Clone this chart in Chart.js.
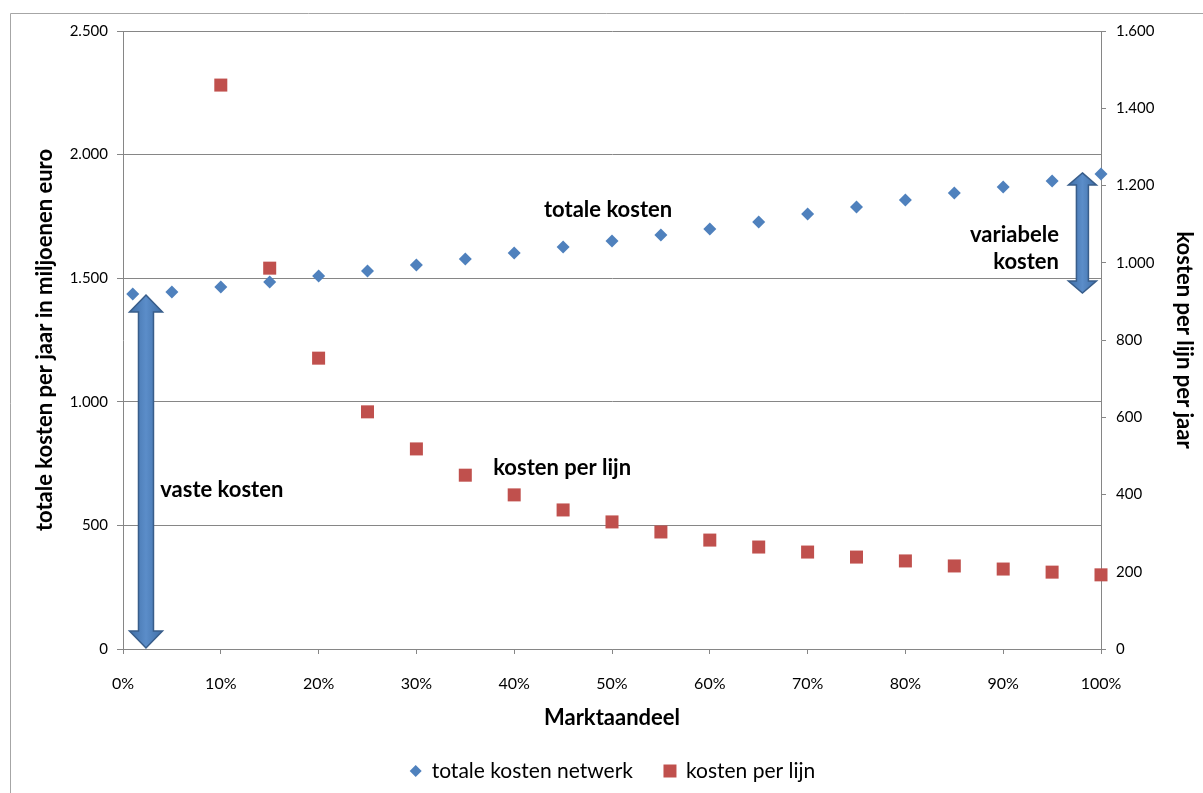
<!DOCTYPE html>
<html>
<head>
<meta charset="utf-8">
<script src="https://cdn.jsdelivr.net/npm/chart.js@4/dist/chart.umd.min.js"></script>
<style>
  html, body { margin: 0; padding: 0; background: #fff; overflow: hidden; }
  canvas { display: block; }
</style>
</head>
<body>
<canvas id="chart" width="1203" height="793"></canvas>
<script>
Chart.defaults.devicePixelRatio = 1;
Chart.defaults.font.family = "Lato, 'Open Sans', sans-serif";
Chart.defaults.color = "#000";

// market share (%) and values
const shareTotal = [1, 5, 10, 15, 20, 25, 30, 35, 40, 45, 50, 55, 60, 65, 70, 75, 80, 85, 90, 95, 100];
const totalCost = [1436, 1444, 1464, 1485, 1509, 1529, 1553, 1578, 1602, 1626, 1650, 1675, 1699, 1727, 1760, 1788, 1816, 1845, 1869, 1893, 1922];
const shareLine = [10, 15, 20, 25, 30, 35, 40, 45, 50, 55, 60, 65, 70, 75, 80, 85, 90, 95, 100];
const costPerLine = [1460, 986, 753, 614, 518, 450, 399, 360, 329, 303, 282, 264, 251, 238, 228, 215, 207, 199, 192];

const seriesLabels = ["totale kosten netwerk", "kosten per lijn"];
const seriesColors = ["#4F81BD", "#C0504D"];

// annotations (data coordinates, left axis)
const arrows = [
  { x: 2.35, from: 4, to: 1432, head: 33, shaft: 15, headLen: 17 },
  { x: 98.1, from: 1440, to: 1926, head: 28, shaft: 12, headLen: 12 },
];
const notes = [
  { lines: ["totale kosten"], x: 49.6, y: 1776, align: "center" },
  { lines: ["kosten per lijn"], x: 44.9, y: 732, align: "center" },
  { lines: ["vaste kosten"], x: 10.1, y: 643, align: "center" },
  { lines: ["variabele", "kosten"], x: 95.7, y: 1675, align: "right" },
];

function fmt(v) {
  return String(v).replace(/\B(?=(\d{3})+(?!\d))/g, ".");
}

const gridColor = "#868686";

const extras = {
  id: "extras",
  beforeDraw(chart) {
    const ctx = chart.ctx;
    ctx.save();
    ctx.fillStyle = "#fff";
    ctx.fillRect(0, 0, chart.width, chart.height);
    ctx.strokeStyle = "#a6a6a6";
    ctx.lineWidth = 1;
    ctx.beginPath();
    ctx.moveTo(10.5, chart.height);
    ctx.lineTo(10.5, 13.5);
    ctx.lineTo(chart.width, 13.5);
    ctx.stroke();
    ctx.restore();
  },
  afterDatasetsDraw(chart) {
    const ctx = chart.ctx;
    const xs = chart.scales.x, ys = chart.scales.y;
    ctx.save();
    arrows.forEach((a) => {
      const cx = xs.getPixelForValue(a.x);
      const top = ys.getPixelForValue(a.to);
      const bot = ys.getPixelForValue(a.from);
      const hw = a.head / 2, sw = a.shaft / 2;
      ctx.beginPath();
      ctx.moveTo(cx, top);
      ctx.lineTo(cx + hw, top + a.headLen);
      ctx.lineTo(cx + sw, top + a.headLen);
      ctx.lineTo(cx + sw, bot - a.headLen);
      ctx.lineTo(cx + hw, bot - a.headLen);
      ctx.lineTo(cx, bot);
      ctx.lineTo(cx - hw, bot - a.headLen);
      ctx.lineTo(cx - sw, bot - a.headLen);
      ctx.lineTo(cx - sw, top + a.headLen);
      ctx.lineTo(cx - hw, top + a.headLen);
      ctx.closePath();
      const g = ctx.createLinearGradient(cx - hw, 0, cx + hw, 0);
      g.addColorStop(0, "#3f6ea6");
      g.addColorStop(0.5, "#5b8dc9");
      g.addColorStop(1, "#3f6ea6");
      ctx.fillStyle = g;
      ctx.fill();
      ctx.strokeStyle = "#385D8A";
      ctx.lineWidth = 1.5;
      ctx.stroke();
    });

    ctx.fillStyle = "#000";
    ctx.font = "bold 22px Lato, 'Open Sans', sans-serif";
    ctx.textBaseline = "middle";
    notes.forEach((n) => {
      const px = xs.getPixelForValue(n.x);
      const py = ys.getPixelForValue(n.y);
      ctx.textAlign = n.align;
      n.lines.forEach((line, i) => ctx.fillText(line, px, py + i * 27));
    });

    // legend
    ctx.font = "21px Lato, 'Open Sans', sans-serif";
    ctx.textAlign = "left";
    const markerW = 14, gapText = 9, gapItem = 30;
    const widths = seriesLabels.map((l) => ctx.measureText(l).width);
    const total = widths.reduce((s, w) => s + markerW + gapText + w, 0) + gapItem;
    let lx = (chart.chartArea.left + chart.chartArea.right) / 2 - total / 2;
    const ly = 771;
    seriesLabels.forEach((label, i) => {
      const mx = lx + markerW / 2;
      ctx.fillStyle = seriesColors[i];
      ctx.beginPath();
      if (i === 0) {
        ctx.moveTo(mx, ly - 6);
        ctx.lineTo(mx + 6, ly);
        ctx.lineTo(mx, ly + 6);
        ctx.lineTo(mx - 6, ly);
        ctx.closePath();
      } else {
        ctx.rect(mx - 6.5, ly - 6.5, 13, 13);
      }
      ctx.fill();
      ctx.fillStyle = "#000";
      ctx.fillText(label, lx + markerW + gapText, ly);
      lx += markerW + gapText + widths[i] + gapItem;
    });
    ctx.restore();
  },
};

new Chart(document.getElementById("chart"), {
  type: "scatter",
  data: {
    datasets: [
      {
        label: seriesLabels[0],
        data: shareTotal.map((s, i) => ({ x: s, y: totalCost[i] })),
        yAxisID: "y",
        pointStyle: "rectRot",
        pointRadius: 6.5,
        pointHoverRadius: 6.5,
        backgroundColor: seriesColors[0],
        borderColor: seriesColors[0],
        borderWidth: 0,
        clip: false,
      },
      {
        label: seriesLabels[1],
        data: shareLine.map((s, i) => ({ x: s, y: costPerLine[i] })),
        yAxisID: "y1",
        pointStyle: "rect",
        pointRadius: 9.2,
        pointHoverRadius: 9.2,
        backgroundColor: seriesColors[1],
        borderColor: seriesColors[1],
        borderWidth: 0,
        clip: false,
      },
    ],
  },
  options: {
    responsive: false,
    maintainAspectRatio: false,
    animation: false,
    layout: { padding: { top: 31, left: 0, right: 0, bottom: 62 } },
    plugins: {
      legend: { display: false },
      tooltip: { enabled: false },
    },
    scales: {
      x: {
        type: "linear",
        min: 0,
        max: 100,
        afterFit: (s) => { s.height = 82; },
        ticks: {
          stepSize: 10,
          autoSkip: false,
          maxRotation: 0,
          padding: 20,
          font: { size: 16 },
          callback: (v) => v + "%",
        },
        grid: { drawOnChartArea: false, drawTicks: true, tickLength: 5, color: gridColor },
        border: { display: true, color: gridColor },
        title: {
          display: true,
          text: "Marktaandeel",
          font: { size: 22, weight: "bold" },
          padding: { top: 0, bottom: 0 },
        },
      },
      y: {
        position: "left",
        min: 0,
        max: 2500,
        afterFit: (s) => { s.width = 123; },
        ticks: { stepSize: 500, padding: 9, font: { size: 15 }, callback: (v) => fmt(v) },
        grid: { color: gridColor, tickLength: 6 },
        border: { display: true, color: gridColor },
        title: {
          display: true,
          text: "totale kosten per jaar in miljoenen euro",
          font: { size: 22, weight: "bold" },
          padding: { top: 32, bottom: 0 },
        },
      },
      y1: {
        position: "right",
        min: 0,
        max: 1600,
        afterFit: (s) => { s.width = 102; },
        ticks: { stepSize: 200, padding: 10, font: { size: 15 }, callback: (v) => fmt(v) },
        grid: { drawOnChartArea: false, tickLength: 5, color: gridColor },
        border: { display: true, color: gridColor },
        title: {
          display: true,
          text: "kosten per lijn per jaar",
          font: { size: 22, weight: "bold" },
          padding: { top: 6, bottom: 0 },
        },
      },
    },
  },
  plugins: [extras],
});
</script>
</body>
</html>
